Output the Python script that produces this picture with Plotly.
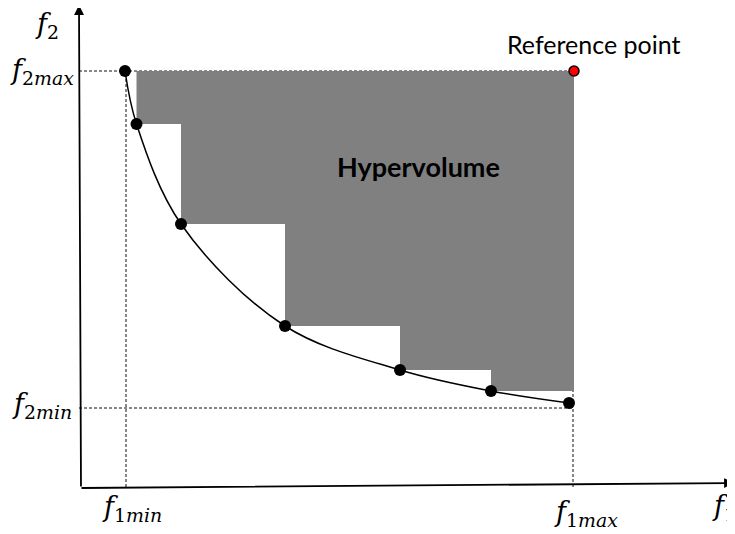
import plotly.graph_objects as go

# diagram units: 1 unit = 50 px, origin at the axes corner
f1 = [0.92, 1.15, 2.04, 4.12, 6.42, 8.24, 9.80]   # pareto front, objective 1
f2 = [8.32, 7.26, 5.26, 3.22, 2.34, 1.92, 1.68]   # pareto front, objective 2
ref_point = (9.90, 8.32)

f1min, f1max = 0.94, 9.88
f2min, f2max = 1.58, 8.32

# axis arrows (tail -> head)
x_axis = [(0.02, -0.02), (13.10, 0.08)]
y_axis = [(0.04, -0.02), (0.0, 9.64)]

MATH = "DejaVu Serif"
TEXT = "Lato"

fig = go.Figure()

dot = dict(color="#111111", width=1, dash="3px,2px")
guides = [
    ([0, ref_point[0]], [f2max, f2max]),
    ([f1min, f1min], [0, f2max]),
    ([0, f1max], [f2min, f2min]),
    ([f1max, f1max], [0, f2max]),
]
for gx, gy in guides:
    fig.add_trace(go.Scatter(x=gx, y=gy, mode="lines", line=dot, hoverinfo="skip"))

# hypervolume staircase, dominated region between front and reference point
hx, hy = [f1[1]], [ref_point[1]]
for i in range(1, len(f1) - 1):
    hx += [f1[i], f1[i + 1] if i + 1 < len(f1) - 1 else ref_point[0]]
    hy += [f2[i], f2[i]]
hx += [ref_point[0]]
hy += [ref_point[1]]
fig.add_trace(go.Scatter(x=hx, y=hy, mode="lines", fill="toself", fillcolor="#808080",
                         line=dict(width=0), hoverinfo="skip"))

# front curve + points
fig.add_trace(go.Scatter(x=f1, y=f2, mode="lines", line=dict(color="black", width=1.5, shape="spline")))
fig.add_trace(go.Scatter(x=f1, y=f2, mode="markers", marker=dict(color="black", size=12)))
fig.add_trace(go.Scatter(x=[ref_point[0]], y=[ref_point[1]], mode="markers",
                         marker=dict(color="#ff0000", size=10, line=dict(color="black", width=1.5))))

# axes as arrows
for (tx, ty), (hx_, hy_) in (x_axis, y_axis):
    fig.add_annotation(x=hx_, y=hy_, ax=tx, ay=ty, xref="x", yref="y", axref="x", ayref="y",
                       text="", showarrow=True, arrowhead=2, arrowsize=1.1, arrowwidth=1.8,
                       arrowcolor="black", standoff=0)

mfont = dict(family=MATH, size=27, color="black")
labels = [
    ("<i>f</i><sub>2</sub>", -0.64, 9.24, "center"),
    ("<i>f</i><sub>2<i>max</i></sub>", -0.74, f2max, "center"),
    ("<i>f</i><sub>2<i>min</i></sub>", -0.74, f2min + 0.06, "center"),
    ("<i>f</i><sub>1<i>min</i></sub>", f1min + 0.12, -0.42, "center"),
    ("<i>f</i><sub>1<i>max</i></sub>", f1max + 0.26, -0.52, "center"),
    ("<i>f</i><sub>1</sub>", 12.62, -0.40, "left"),
]
for txt, lx, ly, anchor in labels:
    fig.add_annotation(x=lx, y=ly, text=txt, showarrow=False, xanchor=anchor, yanchor="middle", font=mfont)

fig.add_annotation(x=8.52, y=8.86, text="Reference point", showarrow=False, xanchor="left",
                   font=dict(family=TEXT, size=25, color="black"))
fig.add_annotation(x=6.78, y=6.42, text="<b>Hypervolume</b>", showarrow=False,
                   font=dict(family=TEXT, size=27, color="black"))

# page body has an 8 px margin, so ranges are offset to keep the drawing in place
fig.update_layout(
    width=735, height=534, margin=dict(l=0, r=0, t=0, b=0),
    plot_bgcolor="white", paper_bgcolor="white", showlegend=False,
    xaxis=dict(range=[-1.42, 13.28], visible=False, fixedrange=True),
    yaxis=dict(range=[-1.10, 9.58], visible=False, fixedrange=True),
)

fig.write_html("out.html")
